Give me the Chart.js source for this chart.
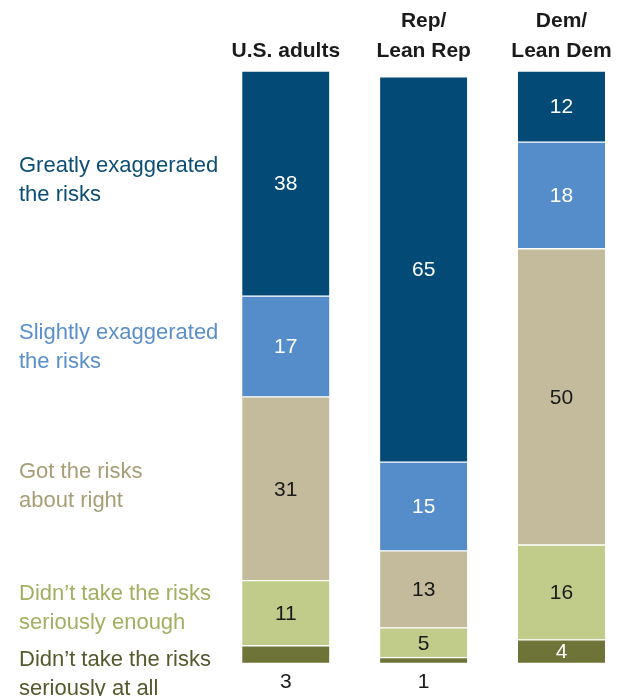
<!DOCTYPE html>
<html>
<head>
<meta charset="utf-8">
<script src="https://cdn.jsdelivr.net/npm/chart.js@4.4.0/dist/chart.umd.min.js"></script>
<style>
  html, body { margin: 0; padding: 0; background: #fff; }
  #wrap { width: 621px; height: 696px; }
</style>
</head>
<body>
<div id="wrap"><canvas id="myChart"></canvas></div>
<script>
// column headers (one array per group, one entry per line)
const groups = [['U.S. adults'], ['Rep/', 'Lean Rep'], ['Dem/', 'Lean Dem']];

// answers, listed top of the bar to bottom
const answers = [
    ['Greatly exaggerated', 'the risks'],
    ['Slightly exaggerated', 'the risks'],
    ['Got the risks', 'about right'],
    ['Didn\u2019t take the risks', 'seriously enough'],
    ['Didn\u2019t take the risks', 'seriously at all']
];

// % in each group: U.S. adults, Rep/Lean Rep, Dem/Lean Dem
const greatly = [38, 65, 12];
const slightly = [17, 15, 18];
const aboutRight = [31, 13, 50];
const notEnough = [11, 5, 16];
const notAtAll = [3, 1, 4];

const barColors = ['#034b76', '#558cca', '#c4bb9c', '#c1cb8a', '#6e7437'];
const textColors = ['#0b4e75', '#5a8fcb', '#a79e76', '#a4ae60', '#55592c'];
const valueColors = ['#fff', '#fff', '#1a1a1a', '#1a1a1a', '#fff'];
// small vertical nudges for the answer labels on the left
const labelNudge = [-5, -1, -4, -6, 18];

const series = [greatly, slightly, aboutRight, notEnough, notAtAll];

// chart.js stacks the first dataset at the bottom, so reverse
const datasets = series.map((data, i) => ({
    label: answers[i].join(' '),
    data: data,
    answer: i,
    backgroundColor: barColors[i],
    borderColor: '#fff',
    borderWidth: { top: 1, bottom: 1, left: 0, right: 0 },
    borderSkipped: false,
    barThickness: 87,
    clip: false
})).reverse();

const labelPlugin = {
    id: 'barLabels',
    afterDatasetsDraw(chart) {
        const ctx = chart.ctx;
        const xs = chart.scales.x;
        ctx.save();

        // group headers
        ctx.font = 'bold 21px "Liberation Sans", Arial, sans-serif';
        ctx.fillStyle = '#1a1a1a';
        ctx.textAlign = 'center';
        ctx.textBaseline = 'alphabetic';
        groups.forEach((lines, i) => {
            const cx = xs.getPixelForValue(i);
            lines.forEach((t, j) => {
                ctx.fillText(t, cx, 57 - (lines.length - 1 - j) * 30);
            });
        });

        // values on the segments
        ctx.font = '21px "Liberation Sans", Arial, sans-serif';
        ctx.textBaseline = 'middle';
        chart.data.datasets.forEach((ds, di) => {
            const meta = chart.getDatasetMeta(di);
            meta.data.forEach((bar, i) => {
                const v = ds.data[i];
                if (v < 4) {
                    ctx.fillStyle = '#1a1a1a';
                    ctx.fillText(String(v), bar.x, bar.base + 19);
                } else {
                    ctx.fillStyle = valueColors[ds.answer];
                    ctx.fillText(String(v), bar.x, (bar.y + bar.base) / 2 + 1);
                }
            });
        });

        // answer labels, lined up with the U.S. adults bar
        ctx.font = '22px "Liberation Sans", Arial, sans-serif';
        ctx.textAlign = 'left';
        ctx.textBaseline = 'alphabetic';
        chart.data.datasets.forEach((ds, di) => {
            const bar = chart.getDatasetMeta(di).data[0];
            const k = ds.answer;
            const c = (bar.y + bar.base) / 2 + labelNudge[k];
            ctx.fillStyle = textColors[k];
            ctx.fillText(answers[k][0], 19, c - 7);
            ctx.fillText(answers[k][1], 19, c + 22);
        });

        ctx.restore();
    }
};

const ctx = document.getElementById('myChart');
const myChart = new Chart(ctx, {
    type: 'bar',
    data: {
        labels: groups.map(g => g.join(' ')),
        datasets: datasets
    },
    options: {
        responsive: true,
        maintainAspectRatio: false,
        animation: false,
        layout: {
            padding: { left: 285.8, right: 59.5, top: 71, bottom: 32.5 }
        },
        plugins: {
            legend: { display: false },
            tooltip: { enabled: false }
        },
        scales: {
            x: { stacked: true, display: false, offset: false },
            y: { stacked: true, display: false, min: 0, max: 100 }
        }
    },
    plugins: [labelPlugin]
});
</script>
</body>
</html>
